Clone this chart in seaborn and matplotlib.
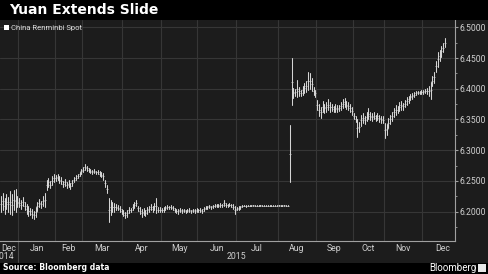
import numpy as np
import pandas as pd
import matplotlib
matplotlib.use("Agg")
import matplotlib.pyplot as plt
import seaborn as sns
from matplotlib.patches import Rectangle, Patch
from matplotlib.ticker import MultipleLocator, FixedLocator

# ---------------- data (USD/CNY daily high / low, one entry per trading day) -------------
high = [
    # Dec 2014 (tail)
    6.226, 6.231, 6.222, 6.228, 6.224, 6.233, 6.229, 6.235, 6.237, 6.226,
    # Jan
    6.222, 6.219, 6.224, 6.215, 6.212, 6.209, 6.206, 6.204, 6.201, 6.207,
    6.216, 6.220, 6.218, 6.226, 6.231, 6.252, 6.255, 6.250, 6.258, 6.262,
    # Feb
    6.259, 6.262, 6.258, 6.256, 6.250, 6.253, 6.248, 6.251, 6.247, 6.252,
    6.256, 6.259, 6.262, 6.265, 6.270,
    # Mar
    6.272, 6.277, 6.275, 6.271, 6.270, 6.268, 6.270, 6.267, 6.268, 6.266,
    6.265, 6.263, 6.252, 6.243, 6.222, 6.219, 6.216, 6.214, 6.212, 6.211,
    6.209, 6.205,
    # Apr
    6.202, 6.200, 6.203, 6.208, 6.206, 6.212, 6.216, 6.219, 6.210, 6.207,
    6.204, 6.206, 6.203, 6.207, 6.210, 6.212, 6.209, 6.214, 6.222, 6.208,
    6.207,
    # May
    6.206, 6.207, 6.209, 6.211, 6.210, 6.211, 6.209, 6.206, 6.205, 6.204,
    6.206, 6.204, 6.205, 6.203, 6.204, 6.206, 6.203, 6.205, 6.204, 6.206,
    # Jun
    6.205, 6.206, 6.204, 6.208, 6.209, 6.210, 6.211, 6.210, 6.211, 6.212,
    6.213, 6.212, 6.214, 6.213, 6.219, 6.214, 6.213, 6.214, 6.213, 6.212,
    6.210,
    # Jul
    6.208, 6.209, 6.210, 6.211, 6.2115, 6.211, 6.2112, 6.2108, 6.211, 6.2112,
    6.211, 6.2108, 6.211, 6.2112, 6.211, 6.2109, 6.2111, 6.211, 6.2112, 6.211,
    6.2109, 6.2111, 6.211,
    # Aug
    6.2112, 6.211, 6.2111, 6.2112, 6.2110, 6.2110, 6.341, 6.450, 6.401, 6.400,
    6.414, 6.403, 6.398, 6.405, 6.409, 6.413, 6.427, 6.425, 6.418, 6.403,
    6.398,
    # Sep
    6.382, 6.375, 6.370, 6.380, 6.376, 6.379, 6.383, 6.378, 6.376, 6.372,
    6.375, 6.373, 6.374, 6.378, 6.383, 6.385, 6.380, 6.378, 6.375, 6.371,
    # Oct
    6.360, 6.356, 6.350, 6.346, 6.358, 6.361, 6.355, 6.362, 6.368, 6.363,
    6.360, 6.362, 6.358, 6.361, 6.358, 6.356, 6.355,
    # Nov
    6.345, 6.343, 6.352, 6.358, 6.362, 6.369, 6.373, 6.372, 6.378, 6.380,
    6.377, 6.382, 6.386, 6.389, 6.391, 6.393, 6.394, 6.396, 6.397, 6.396,
    6.398,
    # Dec 2015
    6.398, 6.399, 6.401, 6.405, 6.411, 6.420, 6.428, 6.445, 6.460, 6.463,
    6.470, 6.474, 6.482,
]
low = [
    # Dec 2014 (tail)
    6.199, 6.203, 6.196, 6.205, 6.200, 6.197, 6.194, 6.203, 6.199, 6.207,
    # Jan
    6.207, 6.204, 6.209, 6.202, 6.197, 6.193, 6.195, 6.190, 6.188, 6.192,
    6.201, 6.208, 6.206, 6.210, 6.208, 6.236, 6.240, 6.238, 6.243, 6.248,
    # Feb
    6.250, 6.252, 6.246, 6.245, 6.240, 6.242, 6.238, 6.240, 6.237, 6.241,
    6.248, 6.252, 6.255, 6.258, 6.262,
    # Mar
    6.264, 6.268, 6.267, 6.264, 6.263, 6.262, 6.263, 6.261, 6.262, 6.258,
    6.256, 6.252, 6.240, 6.230, 6.183, 6.195, 6.199, 6.200, 6.203, 6.202,
    6.199, 6.196,
    # Apr
    6.193, 6.190, 6.192, 6.198, 6.199, 6.202, 6.206, 6.209, 6.201, 6.196,
    6.192, 6.194, 6.193, 6.197, 6.199, 6.202, 6.200, 6.203, 6.198, 6.199,
    6.200,
    # May
    6.199, 6.200, 6.202, 6.204, 6.204, 6.205, 6.203, 6.200, 6.198, 6.197,
    6.199, 6.198, 6.199, 6.198, 6.199, 6.200, 6.198, 6.199, 6.198, 6.200,
    # Jun
    6.199, 6.199, 6.198, 6.201, 6.204, 6.205, 6.206, 6.205, 6.206, 6.207,
    6.208, 6.207, 6.208, 6.208, 6.209, 6.208, 6.208, 6.209, 6.208, 6.204,
    6.197,
    # Jul
    6.202, 6.203, 6.205, 6.207, 6.2085, 6.208, 6.2088, 6.2085, 6.2088, 6.209,
    6.2088, 6.2086, 6.2089, 6.209, 6.2088, 6.2087, 6.209, 6.2088, 6.2089, 6.2087,
    6.2088, 6.209, 6.2089,
    # Aug
    6.209, 6.2088, 6.2089, 6.209, 6.2088, 6.2087, 6.248, 6.373, 6.385, 6.388,
    6.386, 6.389, 6.388, 6.390, 6.393, 6.395, 6.398, 6.400, 6.397, 6.390,
    6.387,
    # Sep
    6.366, 6.355, 6.353, 6.362, 6.360, 6.363, 6.365, 6.362, 6.364, 6.362,
    6.363, 6.362, 6.364, 6.365, 6.368, 6.371, 6.367, 6.365, 6.362, 6.358,
    # Oct
    6.350, 6.346, 6.322, 6.330, 6.340, 6.344, 6.342, 6.347, 6.350, 6.349,
    6.348, 6.350, 6.347, 6.349, 6.346, 6.345, 6.344,
    # Nov
    6.320, 6.325, 6.336, 6.342, 6.348, 6.354, 6.358, 6.360, 6.364, 6.366,
    6.366, 6.370, 6.374, 6.377, 6.381, 6.383, 6.387, 6.390, 6.391, 6.391,
    6.392,
    # Dec 2015
    6.392, 6.393, 6.392, 6.388, 6.384, 6.405, 6.410, 6.428, 6.436, 6.445,
    6.452, 6.460, 6.468,
]

month_labels = ["Dec", "Jan", "Feb", "Mar", "Apr", "May", "Jun",
                "Jul", "Aug", "Sep", "Oct", "Nov", "Dec"]
trading_days_per_month = [10, 20, 15, 22, 21, 20, 21, 23, 21, 20, 17, 21, 18]
year_labels = ["2014", "2015"]
y_ticks = [6.20, 6.25, 6.30, 6.35, 6.40, 6.45, 6.50]
series_name = "China Renminbi Spot"
title = "Yuan Extends Slide"
source = "Source: Bloomberg data"

# ---------------- style -------------------------------------------------------------
sns.set_theme(style="dark")
plt.rcParams["font.family"] = ["Roboto", "DejaVu Sans"]

BG = "#1c1c1c"
GRID = "#363636"
BAR = "#d4d4d4"
AXIS = "#a0a0a0"
TXT = "#cfcfcf"

W, H = 488, 274
fig = plt.figure(figsize=(W / 100, H / 100), dpi=100)
fig.patch.set_facecolor(BG)
ax = fig.add_axes([0, 33 / H, 455 / W, 221 / H])
ax.set_facecolor(BG)

days = np.arange(len(high))
df = pd.DataFrame({
    "day": np.concatenate([days, days]),
    "price": np.concatenate([low, high]),
})
sns.lineplot(data=df, x="day", y="price", units="day", estimator=None,
             sort=False, color=BAR, linewidth=0.75, ax=ax, legend=False)
mid = pd.DataFrame({"day": days, "price": (np.array(high) + np.array(low)) / 2})
sns.scatterplot(data=mid, x="day", y="price", marker="_", s=2.5, linewidth=0.5,
                color=BAR, ax=ax, legend=False)

bounds = np.cumsum(trading_days_per_month) - 0.5
starts = np.concatenate([[-0.5], bounds[:-1]])
x_end = 248.4
ax.set_xlim(-0.5, x_end)
ax.set_ylim(6.1523, 6.5119)

centers = (starts + np.minimum(bounds, x_end)) / 2
centers[-1] += 2
ax.xaxis.set_major_locator(FixedLocator(centers))
ax.set_xticklabels(month_labels)
ax.xaxis.set_minor_locator(FixedLocator(bounds[:-1]))

ax.yaxis.tick_right()
ax.set_yticks(y_ticks)
ax.set_yticklabels([f"{v:.4f}" for v in y_ticks])
ax.yaxis.set_minor_locator(MultipleLocator(0.025))

ax.tick_params(axis="x", which="major", length=0, pad=2.2, labelsize=6.3, labelcolor=TXT)
ax.tick_params(axis="x", which="minor", length=2, width=0.7, color=GRID, direction="out")
ax.tick_params(axis="y", which="major", length=2, width=0.8, color=AXIS, pad=1.2,
               labelsize=6.2, labelcolor=TXT)
ax.tick_params(axis="y", which="minor", length=1.5, width=0.6, color=AXIS)

ax.grid(False)
ax.grid(axis="y", which="major", color=GRID, linewidth=0.8)
ax.grid(axis="x", which="minor", color=GRID, linewidth=0.8)
ax.set_xlabel("")
ax.set_ylabel("")
for s in ["left", "top"]:
    ax.spines[s].set_visible(False)
for s in ["bottom", "right"]:
    ax.spines[s].set_color(AXIS)
    ax.spines[s].set_linewidth(0.8)

# year labels & separator
xt = ax.get_xaxis_transform()
ax.text(2.2, -0.072, year_labels[0], transform=xt, ha="center", va="center",
        fontsize=6.3, color=TXT)
ax.text((bounds[0] + x_end) / 2, -0.072, year_labels[1], transform=xt, ha="center",
        va="center", fontsize=6.3, color=TXT)
ax.plot([bounds[0], bounds[0]], [0, -0.095], transform=xt, clip_on=False,
        color="#4a4a4a", linewidth=0.8)

# legend
ax.legend(handles=[Patch(facecolor="white", edgecolor="none", label=series_name)],
          loc="upper left", bbox_to_anchor=(4 / 455, 1 - 5 / 221), frameon=False,
          fontsize=5.5, handlelength=0.6, handleheight=0.6, handletextpad=0.3,
          borderaxespad=0, borderpad=0, labelcolor="#e0e0e0")

# black bands
fig.add_artist(Rectangle((0, 1 - 20 / H), 1, 20 / H, transform=fig.transFigure,
                         facecolor="black", edgecolor="none"))
fig.add_artist(Rectangle((0, 0), 1, 11.5 / H, transform=fig.transFigure,
                         facecolor="black", edgecolor="none"))

fig.text(9 / W, 1 - 10 / H, title, color="white", fontsize=10, fontweight="bold",
         family="DejaVu Sans", ha="left", va="center")
fig.text(3 / W, 1 - 268 / H, source, color="white", fontsize=5.6, fontweight="bold",
         family="DejaVu Sans", ha="left", va="center")
fig.text(476 / W, 1 - 268 / H, "Bloomberg", color="white", fontsize=7,
         ha="right", va="center")
fig.add_artist(Rectangle((478 / W, 2.5 / H), 8 / W, 7.5 / H, transform=fig.transFigure,
                         facecolor="#e8e8e8", edgecolor="none"))

fig.savefig("out.png", dpi=100, facecolor=fig.get_facecolor())
